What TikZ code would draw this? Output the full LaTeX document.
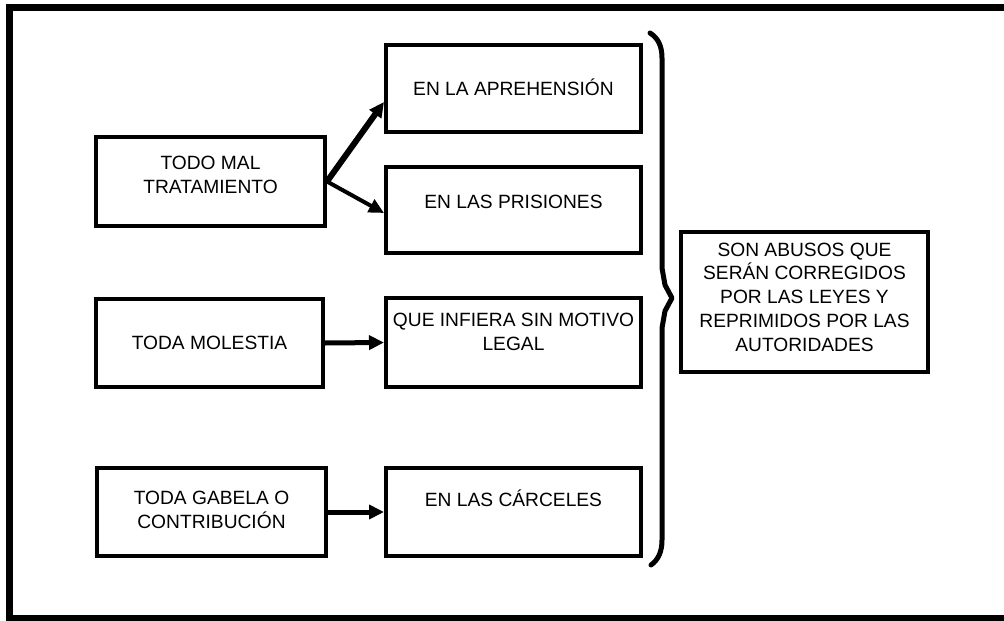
\documentclass[tikz,border=0pt]{standalone}
\usepackage{fontspec}
\setmainfont{Liberation Sans}
\usetikzlibrary{arrows.meta}
\begin{document}
\begin{tikzpicture}[x=1pt,y=-1pt,
  box/.style={draw,line width=4pt,inner sep=0pt,sharp corners},
  txt/.style={align=center,inner sep=0pt,font=\fontsize{19.2}{23.8}\selectfont},
  arr/.style={line width=5pt,-{Triangle[length=15pt,width=14pt]}}]
\useasboundingbox (0,0) rectangle (1004,621);
\fill[white] (0,0) rectangle (1004,621);
% outer frame (open on the right)
\draw[line width=7pt] (1012,7) -- (9,7) -- (9,618) -- (1012,618);
% boxes
\node[box,minimum width=229pt,minimum height=89pt] (b1) at (210.5,181.5) {};
\node[box,minimum width=255pt,minimum height=87pt] (b2) at (513.5,88.5) {};
\node[box,minimum width=255pt,minimum height=86pt] (b3) at (513.5,210) {};
\node[box,minimum width=227pt,minimum height=88pt] (b4) at (209.5,343) {};
\node[box,minimum width=255pt,minimum height=89pt] (b5) at (513.5,342.5) {};
\node[box,minimum width=229pt,minimum height=88pt] (b6) at (211.5,512) {};
\node[box,minimum width=255pt,minimum height=88pt] (b7) at (513.5,512) {};
\node[box,minimum width=247pt,minimum height=140pt] (res) at (804.5,302) {};
% texts
\node[txt] (t1) at (210.5,175) {TODO MAL\\TRATAMIENTO};
\node[txt] (t2) at (513.5,87) {EN LA APREHENSIÓN};
\node[txt] (t3) at (513.5,202) {EN LAS PRISIONES};
\node[txt] (t4) at (209.5,343) {TODA MOLESTIA};
\node[txt] (t5) at (513.5,332) {QUE INFIERA SIN MOTIVO\\LEGAL};
\node[txt] (t6) at (211.5,510) {TODA GABELA O\\CONTRIBUCIÓN};
\node[txt] (t7) at (513.5,498) {EN LAS CÁRCELES};
\node[txt] (tr) at (804.5,297) {SON ABUSOS QUE\\SERÁN CORREGIDOS\\POR LAS LEYES Y\\REPRIMIDOS POR LAS\\AUTORIDADES};
% connectors
\draw[arr,line width=6pt] (b1.east) -- ([yshift=-13.5pt]b2.west);
\draw[arr,line width=4pt] (b1.east) -- ([yshift=-3pt]b3.west);
\draw[arr] (b4.east) -- (b5.west);
\draw[arr] (b6.east) -- (b7.west);
% brace
\draw[line width=5pt,line join=round,line cap=round]
  (650,33) .. controls (658,38) and (662,46) .. (662,58) -- (662,268)
  -- (665,285) -- (672,298) -- (665,311) -- (662,328) -- (662,540)
  .. controls (662,552) and (658,560) .. (651,565);
\end{tikzpicture}
\end{document}
